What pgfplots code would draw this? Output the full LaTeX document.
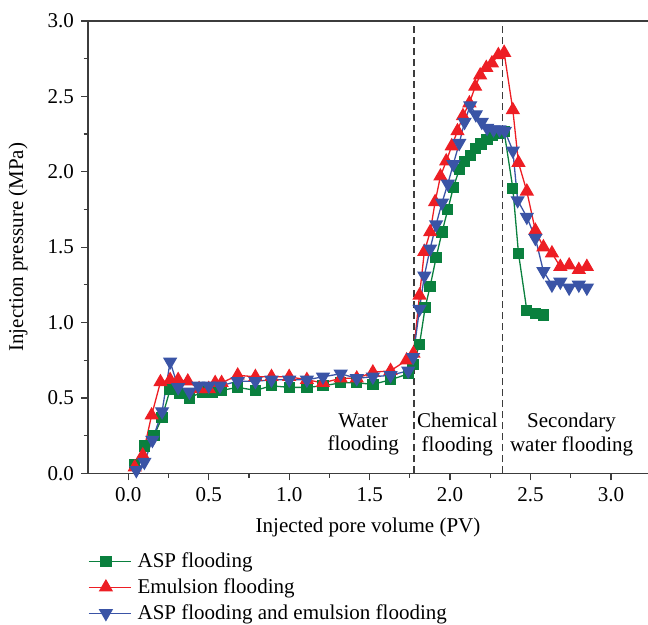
\documentclass[border=0pt]{standalone}
\usepackage{fontspec}
\setmainfont{Liberation Serif}
\usepackage{pgfplots}
\pgfplotsset{compat=1.18}
\definecolor{cgreen}{RGB}{10,128,62}
\definecolor{cred}{RGB}{237,30,36}
\definecolor{cblue}{RGB}{58,84,166}
\definecolor{axcol}{RGB}{60,60,60}
\newcommand{\ff}{\fontsize{21}{23.5}\selectfont}
\begin{document}
\ff
\begin{tikzpicture}
\begin{axis}[
  scale only axis, width=559.6pt, height=452pt,
  xmin=-0.25, xmax=3.23, ymin=0, ymax=3,
  axis x line*=bottom, axis y line*=left,
  xtick={0,0.5,...,3}, ytick={0,0.5,...,3},
  minor x tick num=1, minor y tick num=1,
  tick align=outside,
  major tick length=7pt, minor tick length=4.5pt,
  tick style={line width=1.2pt, color=axcol},
  axis line style={line width=1.5pt, color=axcol},
  /pgf/number format/assume math mode=true,
  xticklabel style={/pgf/number format/.cd, fixed, fixed zerofill, precision=1},
  yticklabel style={/pgf/number format/.cd, fixed, fixed zerofill, precision=1},
  tick label style={font=\ff},
  label style={font=\ff},
  xlabel={Injected pore volume (PV)},
  ylabel={Injection pressure (MPa)},
  xlabel style={at={(axis description cs:0.5,-0.119)}, anchor=center},
  ylabel style={at={(axis description cs:-0.125,0.5)}, anchor=center},
  legend style={draw=none, fill=none, at={(axis description cs:0,-0.17)}, anchor=north west,
    font=\ff, row sep=4pt, inner xsep=0pt, inner ysep=0pt, nodes={inner xsep=6pt}},
  legend cell align=left,
  legend image code/.code={\path (0pt,0pt) -- (42pt,0pt);\draw[mark repeat=2,mark phase=2,#1] plot coordinates {(0pt,0pt)(17pt,0pt)(34pt,0pt)};},
  every axis plot/.append style={line width=1.3pt},
]
\coordinate (BL) at (rel axis cs:0,0);
\coordinate (TL) at (rel axis cs:0,1);
\coordinate (TR) at (rel axis cs:1,1);
\draw[line width=1.3pt, axcol, dash pattern=on 7pt off 4pt] (axis cs:1.775,0) -- (axis cs:1.775,3);
\draw[line width=1.3pt, axcol, dash pattern=on 7pt off 4pt] (axis cs:2.325,0) -- (axis cs:2.325,3);

\addplot[color=cgreen, mark=square*, mark size=5pt, mark options={solid, fill=cgreen}] coordinates {
(0.04,0.06)(0.10,0.18)(0.16,0.25)(0.21,0.37)(0.26,0.555)(0.32,0.53)(0.38,0.50)(0.46,0.54)
(0.52,0.54)(0.58,0.55)(0.68,0.57)(0.79,0.55)(0.89,0.58)(1.00,0.57)(1.11,0.57)(1.21,0.58)
(1.32,0.60)(1.42,0.60)(1.52,0.59)(1.63,0.62)(1.74,0.66)(1.77,0.72)(1.81,0.855)(1.845,1.10)
(1.876,1.24)(1.913,1.43)(1.95,1.60)(1.986,1.75)(2.02,1.895)(2.057,2.015)(2.09,2.07)(2.125,2.11)
(2.16,2.155)(2.193,2.185)(2.23,2.215)(2.264,2.24)(2.30,2.255)(2.336,2.265)(2.39,1.89)(2.425,1.46)
(2.477,1.08)(2.53,1.06)(2.58,1.05)};
\addlegendentry{ASP flooding}

\addplot[color=cred, mark=triangle*, mark size=7pt, mark options={solid, fill=cred}] coordinates {
(0.04,0.04)(0.09,0.12)(0.145,0.385)(0.20,0.605)(0.26,0.62)(0.31,0.62)(0.37,0.61)(0.44,0.56)
(0.50,0.56)(0.54,0.60)(0.58,0.60)(0.68,0.65)(0.79,0.64)(0.89,0.64)(1.00,0.64)(1.11,0.62)
(1.21,0.60)(1.32,0.63)(1.42,0.63)(1.52,0.67)(1.63,0.68)(1.73,0.75)(1.772,0.795)(1.81,1.18)
(1.84,1.47)(1.876,1.60)(1.907,1.80)(1.94,1.97)(1.976,2.07)(2.01,2.17)(2.046,2.27)(2.08,2.37)
(2.12,2.455)(2.156,2.565)(2.187,2.64)(2.225,2.69)(2.26,2.72)(2.30,2.775)(2.336,2.79)(2.39,2.41)
(2.425,2.06)(2.477,1.87)(2.53,1.61)(2.58,1.50)(2.633,1.46)(2.685,1.37)(2.74,1.38)(2.80,1.35)(2.85,1.37)};
\addlegendentry{Emulsion flooding}

\addplot[color=cblue, mark=triangle*, mark size=7pt, mark options={solid, fill=cblue, rotate=180}] coordinates {
(0.05,0.02)(0.10,0.075)(0.15,0.22)(0.21,0.41)(0.26,0.74)(0.31,0.57)(0.38,0.54)(0.435,0.58)
(0.50,0.58)(0.57,0.58)(0.68,0.61)(0.79,0.61)(0.89,0.62)(1.00,0.62)(1.11,0.62)(1.21,0.64)
(1.32,0.66)(1.42,0.63)(1.52,0.64)(1.63,0.65)(1.74,0.68)(1.77,0.77)(1.81,1.09)(1.84,1.31)
(1.876,1.49)(1.913,1.65)(1.95,1.795)(1.986,1.92)(2.02,2.05)(2.057,2.19)(2.09,2.33)(2.125,2.44)
(2.16,2.38)(2.197,2.33)(2.23,2.29)(2.27,2.28)(2.307,2.28)(2.34,2.27)(2.39,2.14)(2.42,1.81)
(2.477,1.70)(2.53,1.56)(2.58,1.34)(2.633,1.25)(2.685,1.27)(2.74,1.23)(2.80,1.25)(2.85,1.23)};
\addlegendentry{ASP flooding and emulsion flooding}

\node[align=center, font=\ff] at (axis cs:1.46,0.258) {Water\\flooding};
\node[align=center, font=\ff] at (axis cs:2.045,0.258) {Chemical\\flooding};
\node[align=center, font=\ff] at (axis cs:2.755,0.258) {Secondary\\water flooding};
\end{axis}
\draw[line width=1.5pt, axcol] (TL) -- (TR);
\pgfresetboundingbox
\path[use as bounding box] ([xshift=-88pt,yshift=-151pt]BL) rectangle ([yshift=21pt]TR);
\end{tikzpicture}
\end{document}
